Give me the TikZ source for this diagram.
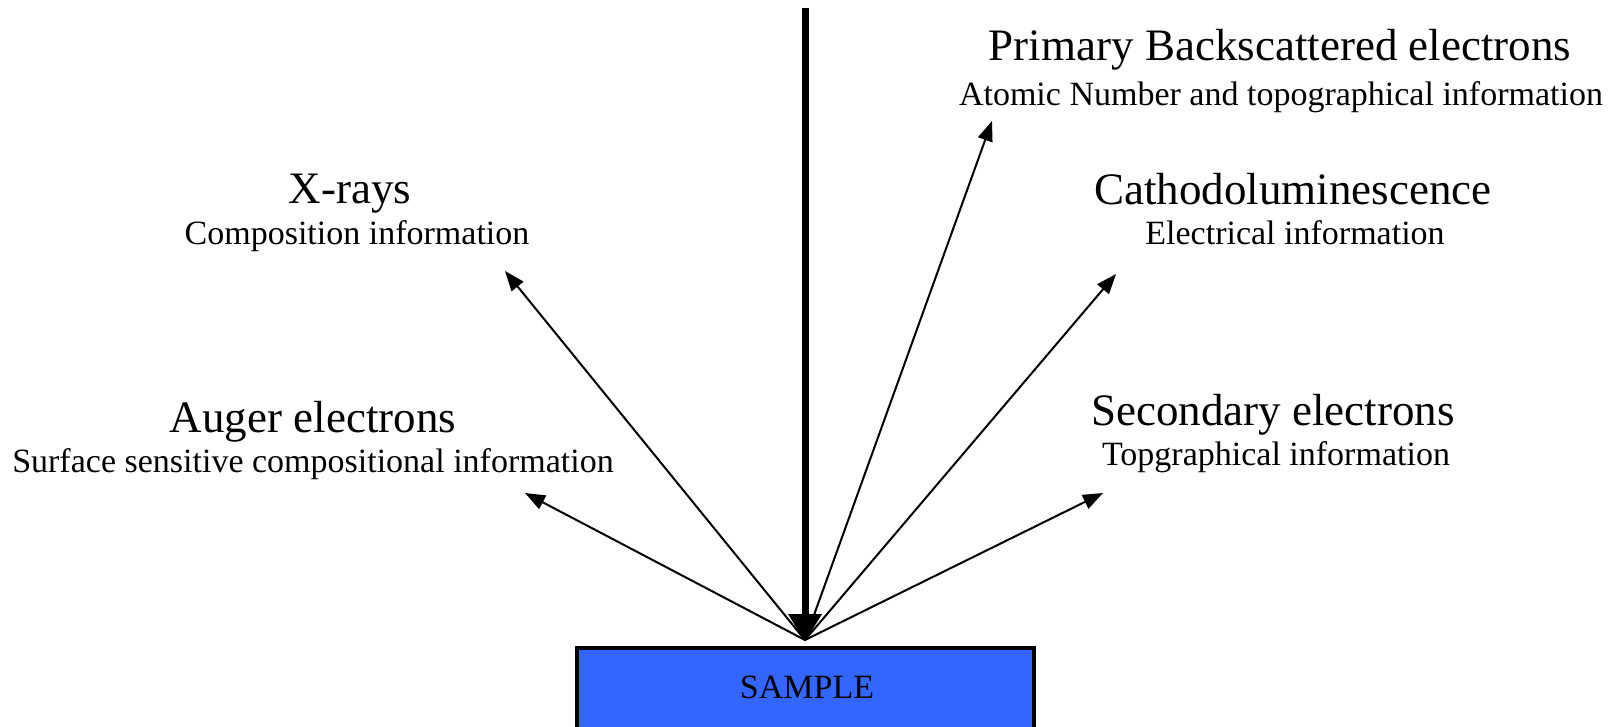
\documentclass[tikz,border=0pt]{standalone}
\usepackage{fontspec}
\setmainfont{Liberation Serif}
\usetikzlibrary{arrows.meta}
\definecolor{sampleblue}{HTML}{3366FF}
\tikzset{
  head/.style={anchor=base, inner sep=0pt, font=\fontsize{45}{54}\selectfont},
  sub/.style={anchor=base, inner sep=0pt, font=\fontsize{34}{40}\selectfont},
  emit/.style={line width=2pt, -{Triangle[length=20pt,width=15pt]}},
  beam/.style={line width=7pt, -{Triangle[length=28pt,width=32pt]}},
  samplebox/.style={draw=black, line width=4pt, fill=sampleblue}
}
\begin{document}
\begin{tikzpicture}[x=1pt,y=-1pt]
\useasboundingbox (0,0) rectangle (1612,727);
\clip (0,0) rectangle (1612,727);
% sample
\draw[samplebox] (577,648) rectangle (1034,760);
\node[anchor=base, inner sep=0pt, font=\fontsize{34}{40}\selectfont] (sample) at (807,698) {SAMPLE};
% beam
\coordinate (beamtop) at (805,8);
\coordinate (hit) at (805,642);
\draw[beam] (beamtop) -- (hit);
% emission source
\coordinate (src) at (805,640);
\coordinate (xtip) at (505,271);
\coordinate (btip) at (992,121);
\coordinate (ctip) at (1116,274);
\coordinate (atip) at (525,493);
\coordinate (stip) at (1103,493);
\draw[emit] (src) -- (xtip);
\draw[emit] (src) -- (btip);
\draw[emit] (src) -- (ctip);
\draw[emit] (src) -- (atip);
\draw[emit] (src) -- (stip);
% labels
\node[head] (bse) at (1280,61) {Primary Backscattered electrons};
\node[sub] (bsei) at (1281,106) {Atomic Number and topographical information};
\node[head] (xr) at (350,204) {X-rays};
\node[sub] (xri) at (357,245) {Composition information};
\node[head] (cl) at (1293,205) {Cathodoluminescence};
\node[sub] (cli) at (1295,245) {Electrical information};
\node[head] (ae) at (313,432) {Auger electrons};
\node[sub] (aei) at (313,472) {Surface sensitive compositional information};
\node[head] (se) at (1273,425) {Secondary electrons};
\node[sub] (sei) at (1276,465) {Topgraphical information};
\end{tikzpicture}
\end{document}
